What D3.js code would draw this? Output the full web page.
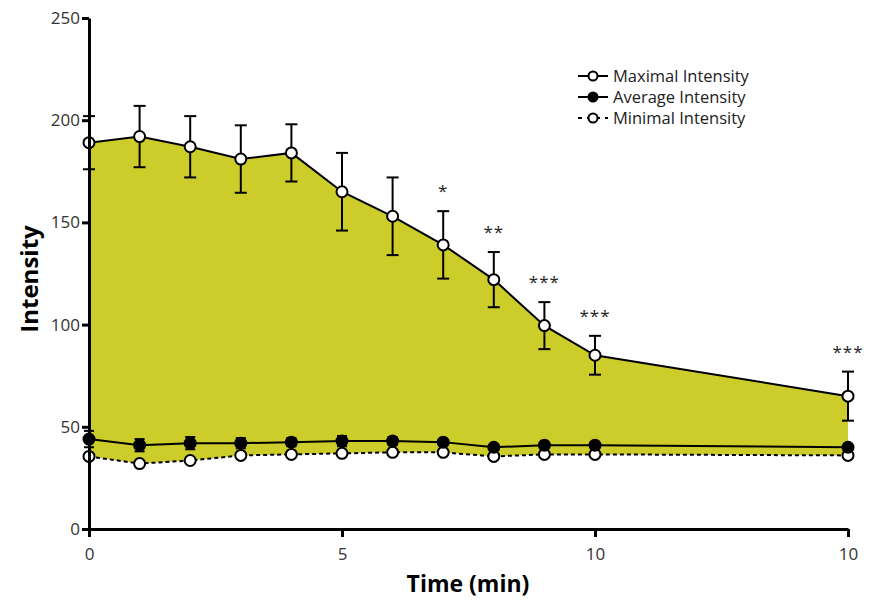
<!DOCTYPE html>
<html>
<head>
<meta charset="utf-8">
<script src="https://cdn.jsdelivr.net/npm/d3@7"></script>
<style>
  body { margin: 0; background: #fff; }
  text { font-family: "Open Sans", "Noto Sans", sans-serif; }
</style>
</head>
<body>
<script>
// Data
var times = [0, 1, 2, 3, 4, 5, 6, 7, 8, 9, 10, 15];
var maxValues = [189, 192, 187, 181, 184, 165, 153, 139, 122, 99.5, 85, 65];
var maxErrors = [13, 15, 15, 16.5, 14, 19, 19, 16.5, 13.5, 11.5, 9.5, 12];
var avgValues = [44, 41, 42, 42, 42.5, 43, 43, 42.5, 40, 41, 41, 40];
var avgErrors = [4, 3, 3, 2.5, 2, 2.5, 2, 0, 0, 0, 0, 0];
var minValues = [35.5, 32, 33.5, 36, 36.5, 37, 37.5, 37.5, 35.5, 36.5, 36.5, 36];
var stars = ["", "", "", "", "", "", "", "*", "**", "***", "***", "***"];
var xTicks = [0, 5, 10, 15];
var xTickLabels = ["0", "5", "10", "10"];
var yTicks = [0, 50, 100, 150, 200, 250];

var width = 872,
    height = 600;

var svg = d3.select("body")
    .append("svg")
    .attr("width", width)
    .attr("height", height);

var x = d3.scaleLinear().domain([0, 15]).range([89, 848]);
var y = d3.scaleLinear().domain([0, 250]).range([529, 18]);

var rows = times.map(function(t, i) {
    return { t: t, max: maxValues[i], maxErr: maxErrors[i], avg: avgValues[i],
             avgErr: avgErrors[i], min: minValues[i], star: stars[i] };
});

// Filled band between maximal and minimal intensity
var area = d3.area()
    .x(function(d) { return x(d.t); })
    .y0(function(d) { return y(d.min); })
    .y1(function(d) { return y(d.max); });

svg.append("path")
    .datum(rows)
    .attr("d", area)
    .attr("fill", "#cccc2a");

// Error bars
function errorBars(key, errKey, cap) {
    var g = svg.append("g")
        .attr("stroke", "#000")
        .attr("stroke-width", 2);
    rows.forEach(function(d) {
        if (!d[errKey]) return;
        var cx = x(d.t),
            top = y(d[key] + d[errKey]),
            bot = y(d[key] - d[errKey]);
        g.append("line").attr("x1", cx).attr("x2", cx).attr("y1", top).attr("y2", bot);
        g.append("line").attr("x1", cx - cap).attr("x2", cx + cap).attr("y1", top).attr("y2", top);
        g.append("line").attr("x1", cx - cap).attr("x2", cx + cap).attr("y1", bot).attr("y2", bot);
    });
}
errorBars("max", "maxErr", 6);
errorBars("avg", "avgErr", 5);

// Series lines
function seriesLine(key, dash) {
    var line = d3.line()
        .x(function(d) { return x(d.t); })
        .y(function(d) { return y(d[key]); });
    svg.append("path")
        .datum(rows)
        .attr("d", line)
        .attr("fill", "none")
        .attr("stroke", "#000")
        .attr("stroke-width", 2)
        .attr("stroke-dasharray", dash);
}
seriesLine("max", null);
seriesLine("avg", null);
seriesLine("min", "4,3");

// Markers
function markers(key, fill) {
    svg.selectAll(".m-" + key)
        .data(rows)
        .enter()
        .append("circle")
        .attr("class", "m-" + key)
        .attr("cx", function(d) { return x(d.t); })
        .attr("cy", function(d) { return y(d[key]); })
        .attr("r", 5.5)
        .attr("fill", fill)
        .attr("stroke", "#000")
        .attr("stroke-width", 2);
}
markers("min", "#fff");
markers("avg", "#000");
markers("max", "#fff");

// Significance stars
svg.selectAll(".star")
    .data(rows.filter(function(d) { return d.star; }))
    .enter()
    .append("text")
    .attr("x", function(d) { return x(d.t); })
    .attr("y", function(d) { return y(d.max + d.maxErr) - 14; })
    .attr("text-anchor", "middle")
    .attr("font-size", 17)
    .attr("letter-spacing", 1)
    .attr("fill", "#222")
    .text(function(d) { return d.star; });

// Axes
var yAxis = svg.append("g")
    .attr("transform", "translate(89,0)")
    .call(d3.axisLeft(y).tickValues(yTicks).tickSize(7).tickSizeOuter(0));

var xAxis = svg.append("g")
    .attr("transform", "translate(0,529)")
    .call(d3.axisBottom(x).tickValues(xTicks).tickSize(8).tickSizeOuter(0)
        .tickFormat(function(d, i) { return xTickLabels[i]; }));

[yAxis, xAxis].forEach(function(g) {
    g.select(".domain").attr("stroke", "#000").attr("stroke-width", 3);
    g.selectAll(".tick line").attr("stroke", "#000").attr("stroke-width", 3);
    g.selectAll(".tick text")
        .attr("font-size", 17)
        .attr("fill", "#333")
        .style("font-family", "'Open Sans', 'Noto Sans', sans-serif");
});
yAxis.selectAll(".tick text").attr("x", -9);
xAxis.selectAll(".tick text").attr("y", 19);

// Axis titles
svg.append("text")
    .attr("x", 468)
    .attr("y", 592)
    .attr("text-anchor", "middle")
    .attr("font-size", 23)
    .attr("font-weight", "bold")
    .attr("fill", "#000")
    .text("Time (min)");

svg.append("text")
    .attr("transform", "translate(38,279) rotate(-90)")
    .attr("text-anchor", "middle")
    .attr("font-size", 24)
    .attr("font-weight", "bold")
    .attr("fill", "#000")
    .text("Intensity");

// Legend
var legendItems = [
    { label: "Maximal Intensity", fill: "#fff", dash: null },
    { label: "Average Intensity", fill: "#000", dash: null },
    { label: "Minimal Intensity", fill: "#fff", dash: "4,5" }
];
var legend = svg.append("g").attr("transform", "translate(578,76)");
legendItems.forEach(function(item, i) {
    var g = legend.append("g").attr("transform", "translate(0," + (i * 21) + ")");
    g.append("line")
        .attr("x1", 0).attr("x2", 30).attr("y1", 0).attr("y2", 0)
        .attr("stroke", "#000").attr("stroke-width", 2)
        .attr("stroke-dasharray", item.dash);
    g.append("circle")
        .attr("cx", 15).attr("cy", 0).attr("r", 4.5)
        .attr("fill", item.fill).attr("stroke", "#000").attr("stroke-width", 2);
    g.append("text")
        .attr("x", 35).attr("y", 5.5)
        .attr("font-size", 16.5)
        .attr("fill", "#222")
        .text(item.label);
});
</script>
</body>
</html>
